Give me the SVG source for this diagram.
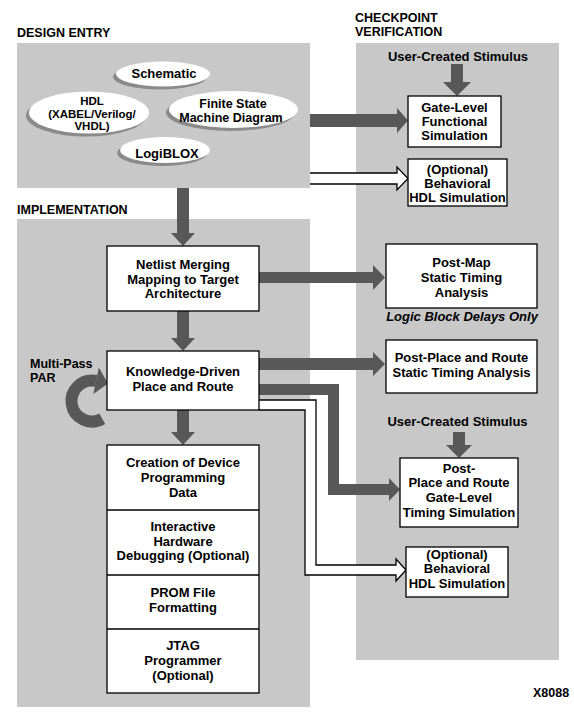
<svg xmlns="http://www.w3.org/2000/svg" width="574" height="723" viewBox="0 0 574 723">
<style>
.panel{fill:#c8c8c8}
.box{fill:#fff;stroke:#000;stroke-width:1.3}
.t{font-family:"Liberation Sans",Arial,sans-serif;font-weight:bold;font-size:13px;fill:#000}
.e{font-size:11.5px}
.f{font-size:12.5px}
.c{text-anchor:middle}
.h{font-size:12.5px}
.it{font-style:italic}
.thick{fill:#585858}
.wband{fill:#fff;stroke:none}
.wline{fill:none;stroke:#000;stroke-width:1.3}
.shadow{fill:#8a8a8a}
.ell{fill:#fff}
</style>
<rect width="574" height="723" fill="#fff"/>
<g id="panels">
<rect class="panel" x="17" y="43" width="293" height="145"/>
<rect class="panel" x="17" y="219" width="293" height="488"/>
<rect class="panel" x="356" y="43" width="203" height="617"/>
</g>
<g id="labels">
<text class="t h" x="17" y="37">DESIGN ENTRY</text>
<text class="t h" x="355" y="22">CHECKPOINT</text>
<text class="t h" x="355" y="36">VERIFICATION</text>
<text class="t h" x="17" y="214">IMPLEMENTATION</text>
<text class="t h" x="533" y="697">X8088</text>
</g>
<g id="schematic">
<ellipse class="shadow" cx="160" cy="77" rx="47" ry="12.5"/>
<ellipse class="ell" cx="163" cy="74" rx="47" ry="12.5"/>
<text class="t c" x="164" y="78">Schematic</text>
</g>
<g id="hdl">
<ellipse class="shadow" cx="86" cy="115.5" rx="60" ry="21"/>
<ellipse class="ell" cx="89" cy="112.5" rx="60" ry="21"/>
<text class="t c e" x="92" y="105">HDL</text>
<text class="t c e" x="92" y="117.5">(XABEL/Verilog/</text>
<text class="t c e" x="92" y="130">VHDL)</text>
</g>
<g id="fsm">
<ellipse class="shadow" cx="230.5" cy="112.5" rx="64.5" ry="18.5"/>
<ellipse class="ell" cx="233.5" cy="109.5" rx="64.5" ry="18.5"/>
<text class="t c f" x="233" y="108">Finite State</text>
<text class="t c f" x="231" y="121.5">Machine Diagram</text>
</g>
<g id="logiblox">
<ellipse class="shadow" cx="162" cy="153" rx="45" ry="13"/>
<ellipse class="ell" cx="165" cy="150" rx="45" ry="13"/>
<text class="t c" x="167" y="158">LogiBLOX</text>
</g>
<g id="connectors">
<polygon class="thick" points="177,188 189,188 189,233 195,233 183,246 171,233 177,233"/>
<polygon class="thick" points="177,311 189,311 189,338 195,338 183,351 171,338 177,338"/>
<polygon class="thick" points="177,410 189,410 189,432 195,432 183,445 171,432 177,432"/>
<polygon class="thick" points="310,114 397,114 397,108 408,120.5 397,133 397,127 310,127"/>
<polygon class="wband" points="310,173 397,173 397,167 408,178.5 397,190 397,184 310,184"/>
<polyline class="wline" points="310,173 397,173 397,167 408,178.5 397,190 397,184 310,184"/>
<polygon class="thick" points="259,272 373,272 373,265 385,277.5 373,290 373,283 259,283"/>
<polygon class="thick" points="259,358 373,358 373,352 385,364 373,376 373,370 259,370"/>
<polygon class="thick" points="259,384 339,384 339,484 389,484 389,478 400,489.5 389,501 389,495 328,495 328,395 259,395"/>
<polygon class="wband" points="259,400 316,400 316,565 396,565 396,559 406,570 396,581 396,575 305,575 305,410 259,410"/>
<polyline class="wline" points="259,400 316,400 316,565 396,565 396,559 406,570 396,581 396,575 305,575 305,410 259,410"/>
<path d="M102.25,418.75 A20.5,20.5 0 1 1 96.09,380.91" fill="none" stroke="#585858" stroke-width="12"/>
<polygon class="thick" points="98.8,367.5 108,383.5 93.3,394"/>
<polygon class="thick" points="451,64 463,64 463,82 471,82 457,96 443,82 451,82"/>
<polygon class="thick" points="453,432 465,432 465,445 472,445 459,458 446,445 453,445"/>
</g>
<g id="par-label">
<text class="t h" x="30" y="367.5">Multi-Pass</text>
<text class="t h" x="30" y="382">PAR</text>
</g>
<g id="netlist">
<rect class="box" x="107" y="246" width="152" height="65"/>
<text class="t c" x="183" y="269">Netlist Merging</text>
<text class="t c" x="183" y="283.5">Mapping to Target</text>
<text class="t c" x="183" y="298">Architecture</text>
</g>
<g id="par">
<rect class="box" x="107" y="351" width="152" height="59"/>
<text class="t c" x="183" y="376">Knowledge-Driven</text>
<text class="t c" x="183" y="391">Place and Route</text>
</g>
<g id="stack">
<rect class="box" x="107" y="445" width="152" height="248"/>
<line class="wline" x1="107" y1="510" x2="259" y2="510"/>
<line class="wline" x1="107" y1="575" x2="259" y2="575"/>
<line class="wline" x1="107" y1="629" x2="259" y2="629"/>
<text class="t c" x="183" y="466.5">Creation of Device</text>
<text class="t c" x="183" y="481.5">Programming</text>
<text class="t c" x="183" y="496.5">Data</text>
<text class="t c" x="183" y="531">Interactive</text>
<text class="t c" x="183" y="545.5">Hardware</text>
<text class="t c" x="183" y="560">Debugging (Optional)</text>
<text class="t c" x="183" y="596.5">PROM File</text>
<text class="t c" x="183" y="612">Formatting</text>
<text class="t c" x="183" y="650">JTAG</text>
<text class="t c" x="183" y="665">Programmer</text>
<text class="t c" x="183" y="680">(Optional)</text>
</g>
<g id="stimulus1">
<text class="t c" x="458" y="61">User-Created Stimulus</text>
</g>
<g id="gatelevel">
<rect class="box" x="408" y="96" width="93" height="51"/>
<text class="t c" x="454.5" y="111.5">Gate-Level</text>
<text class="t c" x="454.5" y="126">Functional</text>
<text class="t c" x="454.5" y="140">Simulation</text>
</g>
<g id="behav1">
<rect class="box" x="408" y="159" width="99" height="47"/>
<text class="t c" x="457.5" y="173.5">(Optional)</text>
<text class="t c" x="457.5" y="187.5">Behavioral</text>
<text class="t c" x="457.5" y="201.5">HDL Simulation</text>
</g>
<g id="postmap">
<rect class="box" x="386" y="244" width="151" height="64"/>
<text class="t c" x="461.5" y="266.5">Post-Map</text>
<text class="t c" x="461.5" y="281.5">Static Timing</text>
<text class="t c" x="461.5" y="296.5">Analysis</text>
<text class="t c it" x="462" y="321">Logic Block Delays Only</text>
</g>
<g id="postpar-static">
<rect class="box" x="386" y="340" width="151" height="53"/>
<text class="t c" x="461.5" y="361.5">Post-Place and Route</text>
<text class="t c" x="461.5" y="376.5">Static Timing Analysis</text>
</g>
<g id="stimulus2">
<text class="t c" x="457.5" y="426">User-Created Stimulus</text>
</g>
<g id="postpar-timing">
<rect class="box" x="400" y="458" width="118" height="69"/>
<text class="t c" x="459" y="472.5">Post-</text>
<text class="t c" x="459" y="487">Place and Route</text>
<text class="t c" x="459" y="501.5">Gate-Level</text>
<text class="t c" x="459" y="516.5">Timing Simulation</text>
</g>
<g id="behav2">
<rect class="box" x="406" y="547" width="102" height="50"/>
<text class="t c" x="457" y="558.5">(Optional)</text>
<text class="t c" x="457" y="573">Behavioral</text>
<text class="t c" x="457" y="588">HDL Simulation</text>
</g>
</svg>
